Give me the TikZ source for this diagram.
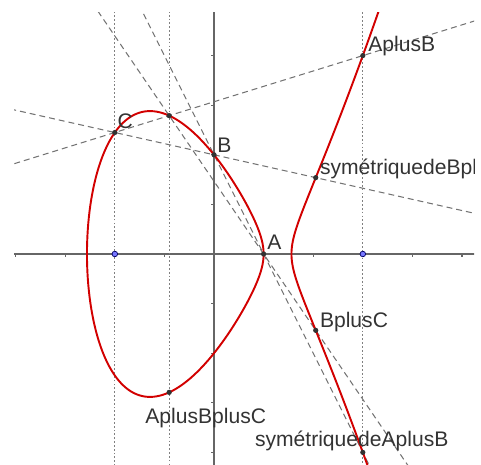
\documentclass[tikz,border=0pt]{standalone}
\usepackage{fontspec}
\setmainfont{Liberation Sans}
\definecolor{curvered}{RGB}{210,0,0}
\definecolor{ptgray}{RGB}{50,50,50}
\definecolor{freeblue}{RGB}{120,120,255}
\pgfdeclarelayer{background}
\pgfsetlayers{background,main}

\begin{document}
\begin{tikzpicture}[x=1cm,y=1cm]
\tikzset{
  ptnode/.style={circle,fill=ptgray,inner sep=0pt,minimum size=3pt},
  freept/.style={circle,fill=freeblue,draw=blue!40!black,line width=0.4pt,inner sep=0pt,minimum size=3.2pt},
  ptlabel/.style={anchor=base west,inner sep=0pt,font=\fontsize{12.1}{14}\selectfont,text=black!80},
  curve/.style={draw=curvered,line width=1.1pt,line join=round},
  axisline/.style={draw=black!60,line width=0.75pt},
  secant/.style={draw=black!55,line width=0.6pt,dash pattern=on 3.4pt off 2.3pt,shorten <=-14cm,shorten >=-14cm},
  vertical/.style={draw=black!50,line width=0.6pt,dash pattern=on 1pt off 1.2pt,shorten <=-14cm,shorten >=-14cm}
}
\useasboundingbox (-4.315,-4.254) rectangle (5.383,5.121);
\clip (-4.032,-4.26) rectangle (5.242,4.859);
% the cubic y^2 = x^3 - 5x + 4
\draw[curve] plot[domain=0:360,samples=181,variable=\t]
  ({-2.5616+1.7808*(1-cos(\t))},{1.7808*sin(\t)*sqrt(2.3423+1.7808*cos(\t))}) -- cycle;
\draw[curve] plot[domain=-1.45:1.45,samples=121,variable=\s]
  ({1.5616+\s*\s},{\s*sqrt((0.5616+\s*\s)*(4.1231+\s*\s))});
% points
\node[freept] (n_X1) at (-2,0) {};
\node[freept] (n_X2) at (3,0) {};
\node[ptnode] (n_A) at (1,0) {};
\node[ptnode] (n_B) at (0,2) {};
\node[ptnode] (n_C) at (-2,2.4495) {};
\node[ptnode] (n_AB) at (3,4) {};
\node[ptnode] (n_mAB) at (3,-4) {};
\node[ptnode] (n_mBC) at (2.0505,1.5392) {};
\node[ptnode] (n_BC) at (2.0505,-1.5392) {};
\node[ptnode] (n_mABC) at (-0.9038,2.7894) {};
\node[ptnode] (n_ABC) at (-0.9038,-2.7894) {};
% labels
\node[ptlabel] (l_A) at (1.069,0.081) {A};
\node[ptlabel] (l_B) at (0.06,2.056) {B};
\node[ptlabel] (l_C) at (-1.95,2.54) {C};
\node[ptlabel] (l_AB) at (3.105,4.073) {AplusB};
\node[ptlabel] (l_mBC) at (2.13,1.593) {symétriquedeBplusC};
\node[ptlabel] (l_BC) at (2.13,-1.472) {BplusC};
\node[ptlabel] (l_ABC) at (-1.391,-3.427) {AplusBplusC};
\node[ptlabel] (l_mAB) at (0.82,-3.885) {symétriquedeAplusB};
\begin{pgfonlayer}{background}
\clip (-4.032,-4.26) rectangle (5.242,4.859);
% axes
\draw[axisline] (-4.1,0) -- (5.3,0);
\draw[axisline] (0,-4.3) -- (0,4.9);
\foreach \k in {-4,-3,-2,-1,1,2,3,4,5} \draw[axisline] (\k,0) -- (\k,-0.06);
\foreach \k in {-4,-3,-2,-1,1,2,3,4} \draw[axisline] (0,\k) -- (-0.06,\k);
% construction lines
\draw[vertical] (n_X1) -- (n_C);
\draw[vertical] (n_mABC) -- (n_ABC);
\draw[vertical] (n_AB) -- (n_mAB);
\draw[secant] (n_A) -- (n_B);
\draw[secant] (n_B) -- (n_C);
\draw[secant] (n_C) -- (n_AB);
\draw[secant] (n_A) -- (n_BC);
\end{pgfonlayer}
\end{tikzpicture}
\end{document}
